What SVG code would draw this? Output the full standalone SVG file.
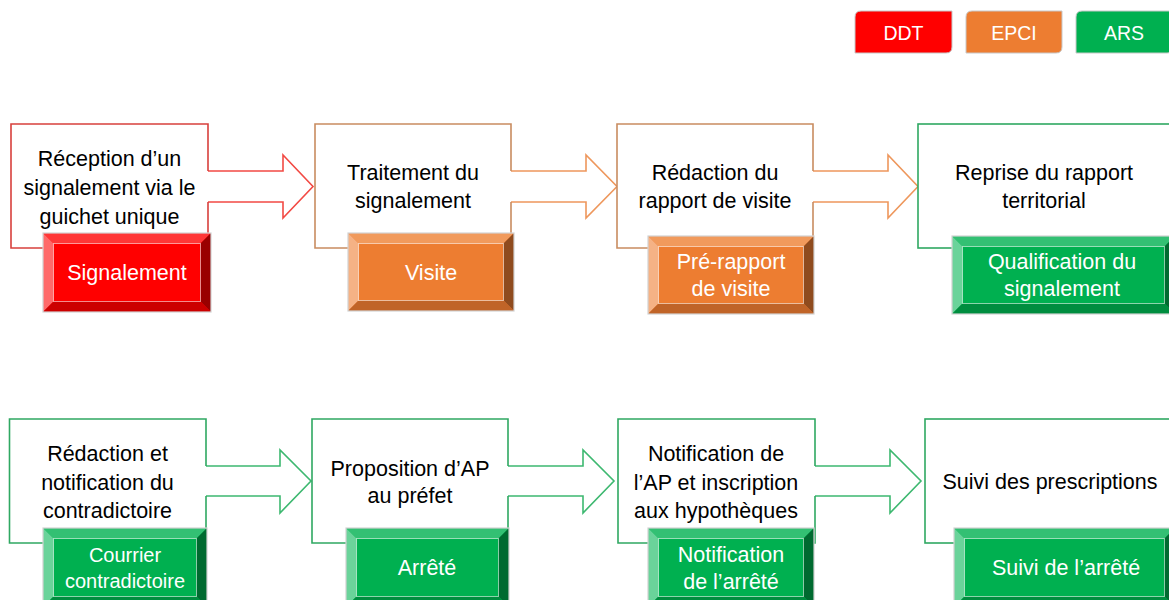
<svg xmlns="http://www.w3.org/2000/svg" width="1169" height="600" viewBox="0 0 1169 600">
<style>
text{font-family:"Liberation Sans",Arial,sans-serif;text-anchor:middle}
.t{font-size:21.5px;fill:#000}
.w{font-size:21.5px;fill:#fff}
.ws{font-size:20px;fill:#fff}
.lg{font-size:19.5px;fill:#fff}
.box{fill:#fff;stroke-width:1.6;stroke-linejoin:miter}
.arr{fill:#fff;stroke-width:1.6;stroke-linejoin:miter}
.nr{stroke:#D8403C}.ar{stroke:#F24A44}
.no{stroke:#C98C60}.ao{stroke:#EE975C}
.ng{stroke:#2FA862}.ag{stroke:#3DB870}
.bo{stroke:#D2D2D2;stroke-width:1.2;fill:none}
.fi{stroke:rgba(255,255,255,0.55);stroke-width:1;}
.rF{fill:#FF0000}.rT{fill:#FF3737}.rL{fill:#FF6A6A}.rR{fill:#990000}.rB{fill:#CC0000}
.oF{fill:#ED7D31}.oT{fill:#F19A5C}.oL{fill:#F5B285}.oR{fill:#8F4B1E}.oB{fill:#C06428}
.gF{fill:#00B050}.gT{fill:#33C073}.gL{fill:#6AD39A}.gR{fill:#006A30}.gB{fill:#008D3F}
.leg{stroke:#C8C8C8;stroke-width:1}
</style>

<g id="legend">
  <g id="legend-ddt">
    <path class="leg" fill="#FF0000" d="M861,11 H952 V47 Q952,53 946,53 H855 V17 Q855,11 861,11 Z"/>
    <text class="lg" x="903.5" y="40">DDT</text>
  </g>
  <g id="legend-epci">
    <path class="leg" fill="#ED7D31" d="M972,11 H1062 V47 Q1062,53 1056,53 H966 V17 Q966,11 972,11 Z"/>
    <text class="lg" x="1014" y="40">EPCI</text>
  </g>
  <g id="legend-ars">
    <path class="leg" fill="#00B050" d="M1082,11 H1173 V47 Q1173,53 1167,53 H1076 V17 Q1076,11 1082,11 Z"/>
    <text class="lg" x="1124" y="40">ARS</text>
  </g>
</g>

<g id="connectors">
  <path class="arr ar" d="M208,171 H283 V155 L313,186.5 L283,218 V202 H208"/>
  <path class="arr ao" d="M511,171 H586 V155 L617,186.5 L586,218 V202 H511"/>
  <path class="arr ao" d="M813,171 H888 V155 L918,186.5 L888,218 V202 H813"/>
  <path class="arr ag" d="M206,466 H280 V450 L311,481 L280,513 V496 H206"/>
  <path class="arr ag" d="M508,466 H583 V450 L614,481 L583,513 V496 H508"/>
  <path class="arr ag" d="M815,466 H890 V450 L921,481 L890,513 V496 H815"/>
</g>

<g id="node1">
  <path class="box nr" d="M208,171 V124 H11 V248 H208 V202"/>
  <text class="t" x="109.5" y="166">Réception d’un</text>
  <text class="t" x="109.5" y="195">signalement via le</text>
  <text class="t" x="109.5" y="223.5">guichet unique</text>
  <g id="node1-tag">
    <rect class="rF" x="43" y="233" width="168" height="79"/>
    <polygon class="rT" points="43,233 211,233 200.5,243.5 53.5,243.5"/>
    <polygon class="rL" points="43,233 53.5,243.5 53.5,301.5 43,312"/>
    <polygon class="rR" points="211,233 211,312 200.5,301.5 200.5,243.5"/>
    <polygon class="rB" points="43,312 53.5,301.5 200.5,301.5 211,312"/>
    <rect class="fi" x="53.5" y="243.5" width="147" height="58" fill="none"/>
    <rect class="bo" x="43" y="233" width="168" height="79"/>
    <text class="w" x="127" y="280">Signalement</text>
  </g>
</g>

<g id="node2">
  <path class="box no" d="M511,171 V124 H315 V248 H511 V202"/>
  <text class="t" x="413" y="179.5">Traitement du</text>
  <text class="t" x="413" y="207.5">signalement</text>
  <g id="node2-tag">
    <rect class="oF" x="348" y="233" width="166" height="78"/>
    <polygon class="oT" points="348,233 514,233 503.5,243.5 358.5,243.5"/>
    <polygon class="oL" points="348,233 358.5,243.5 358.5,300.5 348,311"/>
    <polygon class="oR" points="514,233 514,311 503.5,300.5 503.5,243.5"/>
    <polygon class="oB" points="348,311 358.5,300.5 503.5,300.5 514,311"/>
    <rect class="fi" x="358.5" y="243.5" width="145" height="57" fill="none"/>
    <rect class="bo" x="348" y="233" width="166" height="78"/>
    <text class="w" x="431" y="280">Visite</text>
  </g>
</g>

<g id="node3">
  <path class="box no" d="M813,171 V124 H617 V248 H813 V202"/>
  <text class="t" x="715" y="179.5">Rédaction du</text>
  <text class="t" x="715" y="207.5">rapport de visite</text>
  <g id="node3-tag">
    <rect class="oF" x="648" y="236" width="166" height="78"/>
    <polygon class="oT" points="648,236 814,236 803.5,246.5 658.5,246.5"/>
    <polygon class="oL" points="648,236 658.5,246.5 658.5,303.5 648,314"/>
    <polygon class="oR" points="814,236 814,314 803.5,303.5 803.5,246.5"/>
    <polygon class="oB" points="648,314 658.5,303.5 803.5,303.5 814,314"/>
    <rect class="fi" x="658.5" y="246.5" width="145" height="57" fill="none"/>
    <rect class="bo" x="648" y="236" width="166" height="78"/>
    <text class="w" x="731" y="268.5">Pré-rapport</text>
    <text class="w" x="731" y="296">de visite</text>
  </g>
</g>

<g id="node4">
  <rect class="box ng" x="918" y="124" width="260" height="124"/>
  <text class="t" x="1044" y="179.5">Reprise du rapport</text>
  <text class="t" x="1044" y="207.5">territorial</text>
  <g id="node4-tag">
    <rect class="gF" x="952" y="236" width="223" height="78"/>
    <polygon class="gT" points="952,236 1175,236 1164.5,246.5 962.5,246.5"/>
    <polygon class="gL" points="952,236 962.5,246.5 962.5,303.5 952,314"/>
    <polygon class="gR" points="1175,236 1175,314 1164.5,303.5 1164.5,246.5"/>
    <polygon class="gB" points="952,314 962.5,303.5 1164.5,303.5 1175,314"/>
    <rect class="fi" x="962.5" y="246.5" width="202" height="57" fill="none"/>
    <rect class="bo" x="952" y="236" width="223" height="78"/>
    <text class="w" x="1062" y="268.5">Qualification du</text>
    <text class="w" x="1062" y="296">signalement</text>
  </g>
</g>

<g id="node5">
  <path class="box ng" d="M206,466 V419 H9.5 V543 H206 V496"/>
  <text class="t" x="107.5" y="461">Rédaction et</text>
  <text class="t" x="107.5" y="489.5">notification du</text>
  <text class="t" x="107.5" y="518">contradictoire</text>
  <g id="node5-tag">
    <rect class="gF" x="43" y="528" width="164" height="79"/>
    <polygon class="gT" points="43,528 207,528 196.5,538.5 53.5,538.5"/>
    <polygon class="gL" points="43,528 53.5,538.5 53.5,596.5 43,607"/>
    <polygon class="gR" points="207,528 207,607 196.5,596.5 196.5,538.5"/>
    <polygon class="gB" points="43,607 53.5,596.5 196.5,596.5 207,607"/>
    <rect class="fi" x="53.5" y="538.5" width="143" height="58" fill="none"/>
    <rect class="bo" x="43" y="528" width="164" height="79"/>
    <text class="ws" x="125" y="562">Courrier</text>
    <text class="ws" x="125" y="588">contradictoire</text>
  </g>
</g>

<g id="node6">
  <path class="box ng" d="M508,466 V419 H312 V543 H508 V496"/>
  <text class="t" x="410" y="475.5">Proposition d’AP</text>
  <text class="t" x="410" y="503">au préfet</text>
  <g id="node6-tag">
    <rect class="gF" x="346" y="528" width="163" height="79"/>
    <polygon class="gT" points="346,528 509,528 498.5,538.5 356.5,538.5"/>
    <polygon class="gL" points="346,528 356.5,538.5 356.5,596.5 346,607"/>
    <polygon class="gR" points="509,528 509,607 498.5,596.5 498.5,538.5"/>
    <polygon class="gB" points="346,607 356.5,596.5 498.5,596.5 509,607"/>
    <rect class="fi" x="356.5" y="538.5" width="142" height="58" fill="none"/>
    <rect class="bo" x="346" y="528" width="163" height="79"/>
    <text class="w" x="427" y="575">Arrêté</text>
  </g>
</g>

<g id="node7">
  <path class="box ng" d="M815,466 V419 H618 V543 H815 V496"/>
  <text class="t" x="716" y="461">Notification de</text>
  <text class="t" x="716" y="489.5">l’AP et inscription</text>
  <text class="t" x="716" y="518">aux hypothèques</text>
  <g id="node7-tag">
    <rect class="gF" x="648" y="528" width="166" height="79"/>
    <polygon class="gT" points="648,528 814,528 803.5,538.5 658.5,538.5"/>
    <polygon class="gL" points="648,528 658.5,538.5 658.5,596.5 648,607"/>
    <polygon class="gR" points="814,528 814,607 803.5,596.5 803.5,538.5"/>
    <polygon class="gB" points="648,607 658.5,596.5 803.5,596.5 814,607"/>
    <rect class="fi" x="658.5" y="538.5" width="145" height="58" fill="none"/>
    <rect class="bo" x="648" y="528" width="166" height="79"/>
    <text class="w" x="731" y="561.5">Notification</text>
    <text class="w" x="731" y="588.5">de l’arrêté</text>
  </g>
</g>

<g id="node8">
  <rect class="box ng" x="925" y="419" width="255" height="124"/>
  <text class="t" x="1050" y="489">Suivi des prescriptions</text>
  <g id="node8-tag">
    <rect class="gF" x="954" y="528" width="221" height="79"/>
    <polygon class="gT" points="954,528 1175,528 1164.5,538.5 964.5,538.5"/>
    <polygon class="gL" points="954,528 964.5,538.5 964.5,596.5 954,607"/>
    <polygon class="gR" points="1175,528 1175,607 1164.5,596.5 1164.5,538.5"/>
    <polygon class="gB" points="954,607 964.5,596.5 1164.5,596.5 1175,607"/>
    <rect class="fi" x="964.5" y="538.5" width="200" height="58" fill="none"/>
    <rect class="bo" x="954" y="528" width="221" height="79"/>
    <text class="w" x="1066" y="575">Suivi de l’arrêté</text>
  </g>
</g>
</svg>
